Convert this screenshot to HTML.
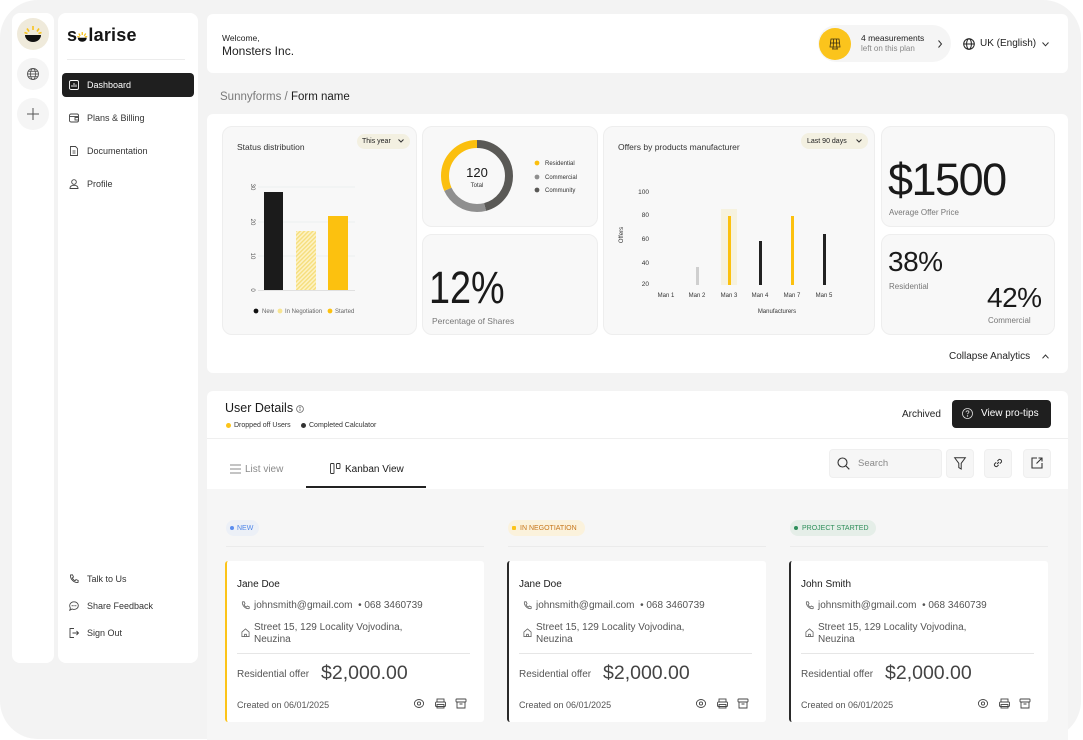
<!DOCTYPE html>
<html><head><meta charset="utf-8">
<style>
*{box-sizing:border-box;margin:0;padding:0}
body{width:1083px;height:740px;overflow:hidden;background:#fff;font-family:"Liberation Sans",Arial,sans-serif;color:#1c1c1c;position:relative}
.a{position:absolute}
.t{position:absolute;white-space:nowrap;line-height:1}
.frame{left:0;top:0;width:1081px;height:739px;background:#f3f3f3;border-radius:38px}
.panel{background:#fff}
.card{position:absolute;background:#f8f8f8;border:1px solid #eeeeee;border-radius:10px}
.kc{position:absolute;top:561px;width:259px;height:161px;background:#fff;border-radius:3px}
svg{position:absolute;overflow:visible}
</style></head><body>
<div class="a frame"></div>

<!-- icon rail -->
<div class="a panel" style="left:12px;top:13px;width:42px;height:650px;border-radius:8px"></div>
<div class="a" style="left:17px;top:18px;width:32px;height:32px;border-radius:50%;background:#efeadb"></div>
<svg style="left:23px;top:24px" width="20" height="20" viewBox="0 0 20 20">
<g stroke="#f7c21b" stroke-width="1.6"><line x1="10" y1="2" x2="10" y2="6"/><line x1="4" y1="4.5" x2="6" y2="7.5"/><line x1="16" y1="4.5" x2="14" y2="7.5"/><line x1="1.5" y1="8.5" x2="4.5" y2="9.5"/><line x1="18.5" y1="8.5" x2="15.5" y2="9.5"/></g>
<path d="M2 11 H18 A8 7 0 0 1 2 11Z" fill="#111"/></svg>
<div class="a" style="left:17px;top:58px;width:32px;height:32px;border-radius:50%;background:#f5f5f5"></div>
<svg style="left:27px;top:68px" width="12" height="12" viewBox="0 0 12 12" fill="none" stroke="#555" stroke-width=".9"><circle cx="6" cy="6" r="5.5"/><ellipse cx="6" cy="6" rx="2.5" ry="5.5"/><line x1=".5" y1="6" x2="11.5" y2="6"/><line x1="1.5" y1="3.3" x2="10.5" y2="3.3"/><line x1="1.5" y1="8.7" x2="10.5" y2="8.7"/></svg>
<div class="a" style="left:17px;top:98px;width:32px;height:32px;border-radius:50%;background:#f5f5f5"></div>
<svg style="left:27px;top:108px" width="12" height="12" viewBox="0 0 12 12" stroke="#555" stroke-width="1"><line x1="6" y1="0" x2="6" y2="12"/><line x1="0" y1="6" x2="12" y2="6"/></svg>

<!-- sidebar -->
<div class="a panel" style="left:58px;top:13px;width:140px;height:650px;border-radius:8px"></div>
<div class="t" style="left:67px;top:26px;font-size:18px;font-weight:bold;letter-spacing:0.2px;color:#151515">s<span style="position:relative;color:transparent">o<svg style="left:0;top:6.5px" width="10.5" height="10" viewBox="0 0 10 10"><g stroke="#f7c21b" stroke-width="1.3"><line x1="5" y1="0" x2="5" y2="3"/><line x1="1.5" y1="1.5" x2="3" y2="3.8"/><line x1="8.5" y1="1.5" x2="7" y2="3.8"/><line x1="0" y1="4.5" x2="2.5" y2="5"/><line x1="10" y1="4.5" x2="7.5" y2="5"/></g><path d="M0.5 5.8 H9.5 A4.5 4 0 0 1 0.5 5.8Z" fill="#111"/></svg></span>larise</div>
<div class="a" style="left:67px;top:59px;width:118px;height:1px;background:#ececec"></div>
<div class="a" style="left:62px;top:73px;width:132px;height:24px;background:#1f1f1f;border-radius:4px"></div>
<svg style="left:69px;top:80px" width="10" height="10" viewBox="0 0 10 10" fill="none" stroke="#fff" stroke-width=".9"><rect x=".5" y=".5" width="9" height="9" rx="1.5"/><line x1="3" y1="7" x2="3" y2="5"/><line x1="5" y1="7" x2="5" y2="3"/><line x1="7" y1="7" x2="7" y2="4.5"/></svg>
<div class="t" style="left:87px;top:80.5px;font-size:9px;color:#fff">Dashboard</div>
<svg style="left:69px;top:113px" width="10" height="10" viewBox="0 0 10 10" fill="none" stroke="#444" stroke-width=".9"><rect x=".5" y="1" width="9" height="8" rx="1.5"/><path d="M.5 3.5H9.5"/><rect x="6" y="4.5" width="3.5" height="2.5"/></svg>
<div class="t" style="left:87px;top:113.5px;font-size:9px;color:#333">Plans &amp; Billing</div>
<svg style="left:69px;top:146px" width="10" height="10" viewBox="0 0 10 10" fill="none" stroke="#444" stroke-width=".9"><path d="M1.5 .5H6.5L8.5 2.5V9.5H1.5Z"/><line x1="3.5" y1="5" x2="6.5" y2="5"/><line x1="3.5" y1="7" x2="6.5" y2="7"/></svg>
<div class="t" style="left:87px;top:146.5px;font-size:9px;color:#333">Documentation</div>
<svg style="left:69px;top:179px" width="10" height="10" viewBox="0 0 10 10" fill="none" stroke="#444" stroke-width=".9"><circle cx="5" cy="3" r="2.3"/><path d="M1 9.5C1 7 3 6.3 5 6.3S9 7 9 9.5Z"/></svg>
<div class="t" style="left:87px;top:179.5px;font-size:9px;color:#333">Profile</div>
<svg style="left:69px;top:574px" width="10" height="10" viewBox="0 0 10 10" fill="none" stroke="#444" stroke-width=".9"><path d="M1.5 1L3.5 .8 4.5 3 3.3 4C4 5.5 4.8 6.3 6 6.8L7 5.5 9.2 6.5 9 8.5C5 9 1 5 1.5 1Z"/></svg>
<div class="t" style="left:87px;top:574.5px;font-size:9px;color:#333">Talk to Us</div>
<svg style="left:69px;top:601px" width="10" height="10" viewBox="0 0 10 10" fill="none" stroke="#444" stroke-width=".9"><path d="M5 .8C7.5 .8 9.3 2.5 9.3 4.6S7.5 8.4 5 8.4C4.3 8.4 3.7 8.3 3.1 8L.8 9.2 1.4 7C.9 6.3.7 5.5.7 4.6.7 2.5 2.5.8 5 .8Z"/><g fill="#444" stroke="none"><circle cx="3.2" cy="4.7" r=".6"/><circle cx="5" cy="4.7" r=".6"/><circle cx="6.8" cy="4.7" r=".6"/></g></svg>
<div class="t" style="left:87px;top:601.5px;font-size:9px;color:#333">Share Feedback</div>
<svg style="left:69px;top:628px" width="10" height="10" viewBox="0 0 10 10" fill="none" stroke="#444" stroke-width=".9"><path d="M5 .5H1V9.5H5"/><path d="M3.5 5H9.5M7.5 3L9.5 5 7.5 7"/></svg>
<div class="t" style="left:87px;top:628.5px;font-size:9px;color:#333">Sign Out</div>

<!-- header -->
<div class="a panel" style="left:207px;top:14px;width:861px;height:59px;border-radius:6px"></div>
<div class="t" style="left:222px;top:33.5px;font-size:8.5px;color:#222">Welcome,</div>
<div class="t" style="left:222px;top:45px;font-size:12px;color:#222">Monsters Inc.</div>
<div class="a" style="left:818px;top:25px;width:133px;height:37px;border-radius:19px;background:#f5f5f5"></div>
<div class="a" style="left:819px;top:28px;width:32px;height:32px;border-radius:50%;background:#fbc41c"></div>
<svg style="left:829px;top:38px" width="12" height="12" viewBox="0 0 12 12" fill="none" stroke="#3a2e10" stroke-width=".8"><path d="M2 1H10L11 9H1Z"/><line x1="1.5" y1="5" x2="10.5" y2="5"/><line x1="4.6" y1="1" x2="4.2" y2="9"/><line x1="7.4" y1="1" x2="7.8" y2="9"/><line x1="4" y1="9" x2="4" y2="11"/><line x1="8" y1="9" x2="8" y2="11"/><line x1="3" y1="11" x2="9" y2="11"/></svg>
<div class="t" style="left:861px;top:34px;font-size:8.5px;color:#222">4 measurements</div>
<div class="t" style="left:861px;top:44.5px;font-size:8px;color:#888">left on this plan</div>
<svg style="left:937px;top:40px" width="6" height="8" viewBox="0 0 6 8" fill="none" stroke="#333" stroke-width="1"><path d="M1.5 .5L4.5 4 1.5 7.5"/></svg>
<svg style="left:963px;top:38px" width="12" height="12" viewBox="0 0 12 12" fill="none" stroke="#222" stroke-width="1"><circle cx="6" cy="6" r="5.3"/><ellipse cx="6" cy="6" rx="2.4" ry="5.3"/><line x1=".7" y1="6" x2="11.3" y2="6"/></svg>
<div class="t" style="left:980px;top:38.5px;font-size:10px;color:#222">UK (English)</div>
<svg style="left:1042px;top:42px" width="7" height="5" viewBox="0 0 7 5" fill="none" stroke="#333" stroke-width="1"><path d="M.5 .5L3.5 3.8 6.5 .5"/></svg>

<div class="t" style="left:220px;top:92px;font-size:11.5px;color:#7a7a7a">Sunnyforms / <span style="color:#1c1c1c">Form name</span></div>

<!-- analytics -->
<div class="a panel" style="left:207px;top:114px;width:861px;height:259px;border-radius:6px"></div>
<div class="card" style="left:222px;top:126px;width:195px;height:209px"></div>
<div class="card" style="left:422px;top:126px;width:176px;height:101px"></div>
<div class="card" style="left:422px;top:234px;width:176px;height:101px"></div>
<div class="card" style="left:603px;top:126px;width:272px;height:209px"></div>
<div class="card" style="left:881px;top:126px;width:174px;height:101px"></div>
<div class="card" style="left:881px;top:234px;width:174px;height:101px"></div>

<div class="t" style="left:237px;top:143px;font-size:8.5px;color:#333">Status distribution</div>
<div class="a" style="left:357px;top:134px;width:53px;height:15px;border-radius:8px;background:#f3f0e1"></div>
<div class="t" style="left:362px;top:138px;font-size:7px;color:#222">This year</div>
<svg style="left:398px;top:139px" width="6" height="4" viewBox="0 0 6 4" fill="none" stroke="#333" stroke-width="1"><path d="M.5 .5L3 3 5.5 .5"/></svg>

<div class="t" style="left:429px;top:265px;font-size:45px;color:#1a1a1a;transform:scaleX(0.84);transform-origin:0 0">12%</div>
<div class="t" style="left:432px;top:317px;font-size:8.5px;color:#777">Percentage of Shares</div>

<div class="t" style="left:618px;top:143px;font-size:8.5px;color:#333">Offers by products manufacturer</div>
<div class="a" style="left:801px;top:133px;width:67px;height:16px;border-radius:8px;background:#f3f0e1"></div>
<div class="t" style="left:807px;top:137.5px;font-size:7px;color:#222">Last 90 days</div>
<svg style="left:856px;top:139px" width="6" height="4" viewBox="0 0 6 4" fill="none" stroke="#333" stroke-width="1"><path d="M.5 .5L3 3 5.5 .5"/></svg>

<div class="t" style="left:888px;top:157px;font-size:45px;letter-spacing:-1.5px;color:#1a1a1a">$1500</div>
<div class="t" style="left:889px;top:209px;font-size:8px;color:#777">Average Offer Price</div>
<div class="t" style="left:888px;top:248px;font-size:28px;letter-spacing:-0.5px;color:#1a1a1a">38%</div>
<div class="t" style="left:889px;top:283px;font-size:8px;color:#777">Residential</div>
<div class="t" style="left:987px;top:283.5px;font-size:28px;letter-spacing:-0.5px;color:#1a1a1a">42%</div>
<div class="t" style="left:988px;top:317px;font-size:8px;color:#777">Commercial</div>

<div class="t" style="left:949px;top:352px;font-size:10px;color:#222">Collapse Analytics</div>
<svg style="left:1042px;top:354px" width="7" height="5" viewBox="0 0 7 5" fill="none" stroke="#333" stroke-width="1"><path d="M.5 4.3L3.5 1 6.5 4.3"/></svg>

<!-- charts overlay -->
<svg style="left:0;top:0" width="1083" height="740" viewBox="0 0 1083 740" font-family="Liberation Sans, Arial, sans-serif">
<defs><pattern id="h" width="3" height="3" patternUnits="userSpaceOnUse" patternTransform="rotate(45)"><rect width="3" height="3" fill="#fdf2c4"/><rect width="1.4" height="3" fill="#f6de7c"/></pattern></defs>
<g stroke="#e7ecec" stroke-width=".8"><line x1="258" y1="187" x2="355" y2="187"/><line x1="258" y1="222" x2="355" y2="222"/><line x1="258" y1="256" x2="355" y2="256"/></g>
<line x1="258" y1="290.5" x2="355" y2="290.5" stroke="#d8d8d8" stroke-width=".8"/>
<g font-size="6" fill="#555" text-anchor="middle"><text transform="translate(251,187) rotate(90)">30</text><text transform="translate(251,222) rotate(90)">20</text><text transform="translate(251,256) rotate(90)">10</text><text transform="translate(251,290) rotate(90)">0</text></g>
<rect x="264" y="192" width="19" height="98" fill="#1b1b1b"/>
<rect x="296" y="231" width="20" height="59" fill="url(#h)"/>
<rect x="328" y="216" width="20" height="74" fill="#fcc10f"/>
<circle cx="256" cy="311" r="2.4" fill="#111"/><circle cx="280" cy="311" r="2.4" fill="#f7e491"/><circle cx="330" cy="311" r="2.4" fill="#fcc10f"/>
<g font-size="6" fill="#666"><text x="262" y="313">New</text><text x="285" y="313">In Negotiation</text><text x="335" y="313">Started</text></g>

<!-- donut -->
<g transform="translate(477,176) rotate(-90)" fill="none" stroke-width="8">
<circle r="32" stroke="#5a5956" stroke-dasharray="92.2 200"/>
<circle r="32" stroke="#8f8f8f" stroke-dasharray="44.7 200" stroke-dashoffset="-92.2"/>
<circle r="32" stroke="#fbbf0e" stroke-dasharray="64.2 200" stroke-dashoffset="-136.9"/>
</g>
<text x="477" y="177" font-size="13" text-anchor="middle" fill="#1a1a1a">120</text>
<text x="477" y="187" font-size="6" text-anchor="middle" fill="#333">Total</text>
<circle cx="537" cy="163" r="2.4" fill="#fbbf0e"/><circle cx="537" cy="177" r="2.4" fill="#8f8f8f"/><circle cx="537" cy="190" r="2.4" fill="#5a5956"/>
<g font-size="6" fill="#333"><text x="545" y="165">Residential</text><text x="545" y="179">Commercial</text><text x="545" y="192">Community</text></g>

<!-- offers -->
<g font-size="6.5" fill="#333" text-anchor="end"><text x="649" y="194">100</text><text x="649" y="217">80</text><text x="649" y="241">60</text><text x="649" y="265">40</text><text x="649" y="286">20</text></g>
<text transform="translate(623,235) rotate(-90)" font-size="6" text-anchor="middle" fill="#333">Offers</text>
<rect x="721" y="209" width="16" height="76" fill="#f6f2df"/>
<rect x="696" y="267" width="3" height="18" fill="#cfcfcf"/>
<rect x="728" y="216" width="3" height="69" fill="#fcc10f"/>
<rect x="759" y="241" width="3" height="44" fill="#222"/>
<rect x="791" y="216" width="3" height="69" fill="#fcc10f"/>
<rect x="823" y="234" width="3" height="51" fill="#222"/>
<g font-size="6" fill="#333" text-anchor="middle"><text x="666" y="297">Man 1</text><text x="697" y="297">Man 2</text><text x="729" y="297">Man 3</text><text x="760" y="297">Man 4</text><text x="792" y="297">Man 7</text><text x="824" y="297">Man 5</text><text x="777" y="313">Manufacturers</text></g>
</svg>

<!-- user details -->
<div class="a panel" style="left:207px;top:391px;width:861px;height:349px;border-radius:6px 6px 0 0"></div>
<div class="t" style="left:225px;top:402px;font-size:12.5px;color:#1a1a1a">User Details</div>
<svg style="left:296px;top:405px" width="8" height="8" viewBox="0 0 8 8" fill="none" stroke="#666" stroke-width=".8"><circle cx="4" cy="4" r="3.4"/><line x1="4" y1="3.5" x2="4" y2="6"/><circle cx="4" cy="2.3" r=".3" fill="#666"/></svg>
<div class="a" style="left:226px;top:423px;width:5px;height:5px;border-radius:50%;background:#fcc419"></div>
<div class="t" style="left:234px;top:422px;font-size:7px;color:#333">Dropped off Users</div>
<div class="a" style="left:301px;top:423px;width:5px;height:5px;border-radius:50%;background:#333"></div>
<div class="t" style="left:309px;top:422px;font-size:7px;color:#333">Completed Calculator</div>
<div class="t" style="left:902px;top:409.5px;font-size:10px;color:#222">Archived</div>
<div class="a" style="left:952px;top:400px;width:99px;height:28px;border-radius:4px;background:#1f1f1f"></div>
<svg style="left:962px;top:408px" width="11" height="11" viewBox="0 0 11 11" fill="none" stroke="#ddd" stroke-width=".8"><circle cx="5.5" cy="5.5" r="5"/><path d="M4 4.2C4 3.3 4.7 2.8 5.5 2.8S7 3.3 7 4.1C7 5 5.5 5.2 5.5 6.3"/><circle cx="5.5" cy="8" r=".3" fill="#ddd"/></svg>
<div class="t" style="left:981px;top:409px;font-size:10px;color:#fff">View pro-tips</div>
<div class="a" style="left:207px;top:438px;width:861px;height:1px;background:#efefef"></div>

<svg style="left:230px;top:464px" width="11" height="10" viewBox="0 0 11 10" stroke="#888" stroke-width="1"><line x1="0" y1="1" x2="11" y2="1"/><line x1="0" y1="5" x2="11" y2="5"/><line x1="0" y1="9" x2="11" y2="9"/></svg>
<div class="t" style="left:245px;top:464.5px;font-size:10px;color:#8a8a8a">List view</div>
<svg style="left:330px;top:463px" width="12" height="11" viewBox="0 0 12 11" fill="none" stroke="#333" stroke-width=".9"><rect x=".5" y=".5" width="3.5" height="10" rx=".8"/><rect x="6.5" y=".5" width="3.5" height="5" rx=".8"/></svg>
<div class="t" style="left:345px;top:464.5px;font-size:10px;color:#1a1a1a">Kanban View</div>
<div class="a" style="left:306px;top:486px;width:120px;height:2px;background:#222"></div>

<div class="a" style="left:829px;top:449px;width:113px;height:29px;border-radius:4px;background:#f6f6f6;border:1px solid #efefef"></div>
<svg style="left:837px;top:457px" width="13" height="13" viewBox="0 0 13 13" fill="none" stroke="#333" stroke-width="1.1"><circle cx="5.5" cy="5.5" r="4.5"/><line x1="9" y1="9" x2="12.3" y2="12.3"/></svg>
<div class="t" style="left:858px;top:459px;font-size:9.5px;color:#888">Search</div>
<div class="a" style="left:946px;top:449px;width:28px;height:29px;border-radius:4px;background:#f6f6f6;border:1px solid #efefef"></div>
<svg style="left:954px;top:457px" width="12" height="13" viewBox="0 0 12 13" fill="none" stroke="#333" stroke-width="1"><path d="M.7 .8H11.3L7.2 6.3V12L4.8 10.6V6.3Z"/></svg>
<div class="a" style="left:984px;top:449px;width:28px;height:29px;border-radius:4px;background:#f6f6f6;border:1px solid #efefef"></div>
<svg style="left:992px;top:457px" width="12" height="12" viewBox="0 0 12 12" fill="none" stroke="#333" stroke-width="1"><path d="M5 7L7 5"/><path d="M4.2 5.3L2.4 7.1A2.1 2.1 0 0 0 4.9 9.6L6.7 7.8"/><path d="M7.8 6.7L9.6 4.9A2.1 2.1 0 0 0 7.1 2.4L5.3 4.2"/></svg>
<div class="a" style="left:1023px;top:449px;width:28px;height:29px;border-radius:4px;background:#f6f6f6;border:1px solid #efefef"></div>
<svg style="left:1031px;top:457px" width="12" height="12" viewBox="0 0 12 12" fill="none" stroke="#333" stroke-width="1.1"><path d="M6 1H1V11H11V6"/><path d="M5.5 6.5L11 1M7.5 1H11V4.5"/></svg>

<!-- kanban area -->
<div class="a" style="left:207px;top:489px;width:861px;height:251px;background:#f6f6f6"></div>

<div class="a" style="left:226px;top:520px;width:33px;height:16px;border-radius:8px;background:#ecf0f7"></div>
<div class="a" style="left:230px;top:526px;width:4px;height:4px;border-radius:50%;background:#5b8def"></div>
<div class="t" style="left:237px;top:524.5px;font-size:7px;color:#4f86e8">NEW</div>
<div class="a" style="left:508px;top:520px;width:77px;height:16px;border-radius:8px;background:#fbf2dc"></div>
<div class="a" style="left:512px;top:526px;width:4px;height:4px;border-radius:1px;background:#fcc419"></div>
<div class="t" style="left:520px;top:524.5px;font-size:7px;color:#c7761a">IN NEGOTIATION</div>
<div class="a" style="left:790px;top:520px;width:86px;height:16px;border-radius:8px;background:#e5eee8"></div>
<div class="a" style="left:794px;top:526px;width:4px;height:4px;border-radius:50%;background:#2f8f5b"></div>
<div class="t" style="left:802px;top:524.5px;font-size:7px;color:#2f8f5b">PROJECT STARTED</div>
<div class="a" style="left:226px;top:546px;width:258px;height:1px;background:#ebebeb"></div>
<div class="a" style="left:508px;top:546px;width:258px;height:1px;background:#ebebeb"></div>
<div class="a" style="left:790px;top:546px;width:258px;height:1px;background:#ebebeb"></div>

<div class="kc" style="left:225px;border-left:2px solid #fcc419">
 <div class="t" style="left:10px;top:19px;font-size:10px;color:#1a1a1a">Jane Doe</div>
 <svg style="left:14px;top:40px" width="9" height="9" viewBox="0 0 10 10" fill="none" stroke="#666" stroke-width=".9"><path d="M1.5 1L3.5 .8 4.5 3 3.3 4C4 5.5 4.8 6.3 6 6.8L7 5.5 9.2 6.5 9 8.5C5 9 1 5 1.5 1Z"/></svg>
 <div class="t" style="left:27px;top:40px;font-size:10px;color:#555">johnsmith@gmail.com &nbsp;•&nbsp;068 3460739</div>
 <svg style="left:14px;top:67px" width="9" height="9" viewBox="0 0 10 10" fill="none" stroke="#666" stroke-width=".9"><path d="M1 4.5L5 1 9 4.5V9.5H1Z"/><path d="M4 9.5V7H6V9.5"/></svg>
 <div class="t" style="left:27px;top:61px;font-size:10px;color:#555;line-height:12px">Street 15, 129 Locality Vojvodina,<br>Neuzina</div>
 <div class="a" style="left:10px;top:92px;width:233px;height:1px;background:#e6e6e6"></div>
 <div class="t" style="left:10px;top:109px;font-size:10px;color:#555">Residential offer</div>
 <div class="t" style="left:94px;top:103px;font-size:19.5px;color:#444">$2,000.00</div>
 <div class="t" style="left:10px;top:140px;font-size:9px;color:#555">Created on 06/01/2025</div>
 <svg style="left:187px;top:137px" width="60" height="11" viewBox="0 0 60 11" fill="none" stroke="#444" stroke-width=".9"><ellipse cx="5" cy="5.5" rx="4.6" ry="4"/><circle cx="5" cy="5.5" r="1.6"/><rect x="23" y="1" width="7" height="3"/><rect x="21.5" y="4" width="10" height="4.5" rx="1"/><rect x="23" y="6.5" width="7" height="3.5"/><rect x="42" y="1" width="10" height="3" rx=".6"/><path d="M43 4V10H51V4M45.5 6H48.5"/></svg>
</div>
<div class="kc" style="left:507px;border-left:2px solid #2a2a2a">
 <div class="t" style="left:10px;top:19px;font-size:10px;color:#1a1a1a">Jane Doe</div>
 <svg style="left:14px;top:40px" width="9" height="9" viewBox="0 0 10 10" fill="none" stroke="#666" stroke-width=".9"><path d="M1.5 1L3.5 .8 4.5 3 3.3 4C4 5.5 4.8 6.3 6 6.8L7 5.5 9.2 6.5 9 8.5C5 9 1 5 1.5 1Z"/></svg>
 <div class="t" style="left:27px;top:40px;font-size:10px;color:#555">johnsmith@gmail.com &nbsp;•&nbsp;068 3460739</div>
 <svg style="left:14px;top:67px" width="9" height="9" viewBox="0 0 10 10" fill="none" stroke="#666" stroke-width=".9"><path d="M1 4.5L5 1 9 4.5V9.5H1Z"/><path d="M4 9.5V7H6V9.5"/></svg>
 <div class="t" style="left:27px;top:61px;font-size:10px;color:#555;line-height:12px">Street 15, 129 Locality Vojvodina,<br>Neuzina</div>
 <div class="a" style="left:10px;top:92px;width:233px;height:1px;background:#e6e6e6"></div>
 <div class="t" style="left:10px;top:109px;font-size:10px;color:#555">Residential offer</div>
 <div class="t" style="left:94px;top:103px;font-size:19.5px;color:#444">$2,000.00</div>
 <div class="t" style="left:10px;top:140px;font-size:9px;color:#555">Created on 06/01/2025</div>
 <svg style="left:187px;top:137px" width="60" height="11" viewBox="0 0 60 11" fill="none" stroke="#444" stroke-width=".9"><ellipse cx="5" cy="5.5" rx="4.6" ry="4"/><circle cx="5" cy="5.5" r="1.6"/><rect x="23" y="1" width="7" height="3"/><rect x="21.5" y="4" width="10" height="4.5" rx="1"/><rect x="23" y="6.5" width="7" height="3.5"/><rect x="42" y="1" width="10" height="3" rx=".6"/><path d="M43 4V10H51V4M45.5 6H48.5"/></svg>
</div>
<div class="kc" style="left:789px;border-left:2px solid #2a2a2a">
 <div class="t" style="left:10px;top:19px;font-size:10px;color:#1a1a1a">John Smith</div>
 <svg style="left:14px;top:40px" width="9" height="9" viewBox="0 0 10 10" fill="none" stroke="#666" stroke-width=".9"><path d="M1.5 1L3.5 .8 4.5 3 3.3 4C4 5.5 4.8 6.3 6 6.8L7 5.5 9.2 6.5 9 8.5C5 9 1 5 1.5 1Z"/></svg>
 <div class="t" style="left:27px;top:40px;font-size:10px;color:#555">johnsmith@gmail.com &nbsp;•&nbsp;068 3460739</div>
 <svg style="left:14px;top:67px" width="9" height="9" viewBox="0 0 10 10" fill="none" stroke="#666" stroke-width=".9"><path d="M1 4.5L5 1 9 4.5V9.5H1Z"/><path d="M4 9.5V7H6V9.5"/></svg>
 <div class="t" style="left:27px;top:61px;font-size:10px;color:#555;line-height:12px">Street 15, 129 Locality Vojvodina,<br>Neuzina</div>
 <div class="a" style="left:10px;top:92px;width:233px;height:1px;background:#e6e6e6"></div>
 <div class="t" style="left:10px;top:109px;font-size:10px;color:#555">Residential offer</div>
 <div class="t" style="left:94px;top:103px;font-size:19.5px;color:#444">$2,000.00</div>
 <div class="t" style="left:10px;top:140px;font-size:9px;color:#555">Created on 06/01/2025</div>
 <svg style="left:187px;top:137px" width="60" height="11" viewBox="0 0 60 11" fill="none" stroke="#444" stroke-width=".9"><ellipse cx="5" cy="5.5" rx="4.6" ry="4"/><circle cx="5" cy="5.5" r="1.6"/><rect x="23" y="1" width="7" height="3"/><rect x="21.5" y="4" width="10" height="4.5" rx="1"/><rect x="23" y="6.5" width="7" height="3.5"/><rect x="42" y="1" width="10" height="3" rx=".6"/><path d="M43 4V10H51V4M45.5 6H48.5"/></svg>
</div>
</body></html>
